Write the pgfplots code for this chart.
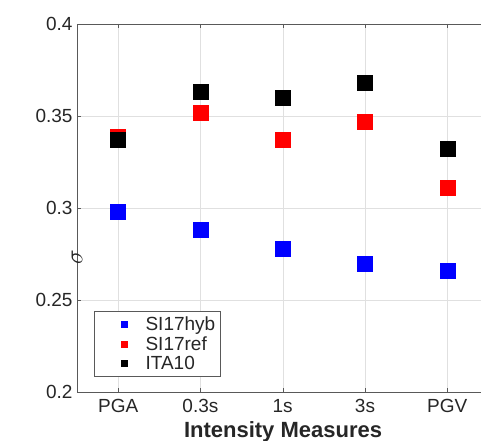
\documentclass[border=0pt]{standalone}
\usepackage{pgfplots}
\pgfplotsset{compat=1.18}
\usepackage{fontspec}
\setmainfont{Liberation Sans}
\begin{document}
\begin{tikzpicture}
\begin{axis}[name=ax, scale only axis, width=404bp, height=368bp,
  xmin=0.5, xmax=5.41, ymin=0.2, ymax=0.4,
  axis y line*=left,
  xtick={1,2,3,4,5}, xticklabels={PGA,0.3s,1s,3s,PGV},
  ytick={0.2,0.25,0.3,0.35,0.4},
  /pgf/number format/assume math mode=true,
  grid=major, major grid style={black!12},
  tick align=inside, major tick length=4bp, tick style={black!65},
  axis line style={black!65},
  tick label style={font=\fontsize{19bp}{22bp}\selectfont, text=black!85},
  xticklabel style={yshift=-4bp},
  yticklabel style={xshift=-1bp},
  xlabel={\textbf{Intensity Measures}},
  xlabel style={font=\fontsize{22bp}{26bp}\selectfont, text=black!85, at={(axis description cs:0.51,0)}, anchor=base, yshift=-45bp},
  ylabel={$\sigma$},
  ylabel style={font=\fontsize{26bp}{30bp}\selectfont, text=black!85, at={(axis description cs:0,0.5)}, anchor=center, xshift=-49bp},
  legend style={at={(axis description cs:0.042,0.0435)}, anchor=south west, draw=black!65, font=\fontsize{19bp}{22bp}\selectfont, text=black!85, inner xsep=3bp, inner ysep=3bp, row sep=0.5bp},
  legend cell align=left,
  legend image code/.code={\path (0,0) (46bp,0); \draw[#1, mark size=3bp] plot coordinates {(27bp,0)};},
  only marks, mark=square*, mark size=7.5bp,
]
\addplot[blue, mark=square*, mark options={fill=blue, draw=blue}] coordinates {(1,0.298) (2,0.288) (3,0.278) (4,0.2696) (5,0.2658)};
\addlegendentry{SI17hyb}
\addplot[red, mark=square*, mark options={fill=red, draw=red}] coordinates {(1,0.339) (2,0.352) (3,0.337) (4,0.347) (5,0.311)};
\addlegendentry{SI17ref}
\addplot[black, mark=square*, mark options={fill=black, draw=black}] coordinates {(1,0.337) (2,0.363) (3,0.360) (4,0.368) (5,0.332)};
\addlegendentry{ITA10}
\end{axis}
\pgfresetboundingbox
\path[use as bounding box] ([xshift=-77bp,yshift=-49bp]ax.south west) rectangle ([yshift=24bp]ax.north east);
\end{tikzpicture}
\end{document}
